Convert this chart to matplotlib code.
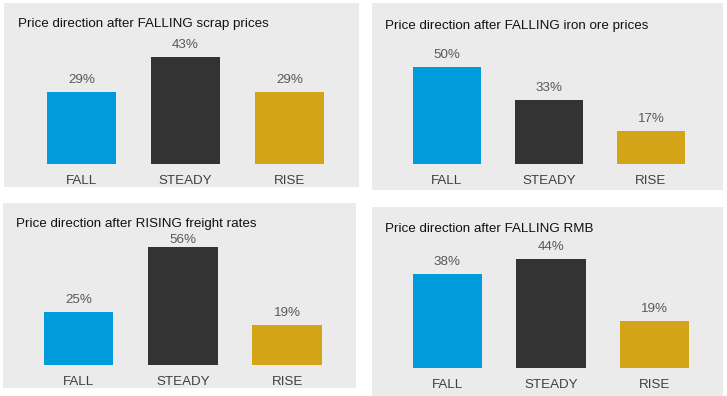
import matplotlib
matplotlib.use('Agg')
import matplotlib.pyplot as plt
from matplotlib.patches import Rectangle

plt.rcParams['font.family'] = ['Liberation Sans', 'DejaVu Sans']

categories = ['FALL', 'STEADY', 'RISE']
colors = ['#009bdb', '#333333', '#d4a418']

titles = [
    'Price direction after FALLING scrap prices',
    'Price direction after FALLING iron ore prices',
    'Price direction after RISING freight rates',
    'Price direction after FALLING RMB',
]
scrap = [29, 43, 29]
iron_ore = [50, 33, 17]
freight = [25, 56, 19]
rmb = [38, 44, 19]
series = [scrap, iron_ore, freight, rmb]

W, H = 727, 396
fig = plt.figure(figsize=(W / 100, H / 100), dpi=100)

# layout in pixels from the top-left: panel box, title anchor, bar geometry
panels = [
    dict(box=(4, 3, 359, 187), title=(18, 24), first=81.5, step=104.0, bottom=164, scale=2.48),
    dict(box=(372, 3, 723, 190), title=(385, 26), first=447.0, step=102.0, bottom=164, scale=1.94),
    dict(box=(3, 203, 356, 388), title=(16, 224), first=78.5, step=104.3, bottom=365, scale=2.11,
         squeeze=1),
    dict(box=(372, 207, 723, 396), title=(385, 229), first=447.5, step=103.5, bottom=368, scale=2.48),
]

for p, title, vals in zip(panels, titles, series):
    x0, y0, x1, y1 = p['box']
    fig.patches.append(Rectangle((x0 / W, 1 - y1 / H), (x1 - x0) / W, (y1 - y0) / H,
                                 transform=fig.transFigure, facecolor='#ebebeb',
                                 edgecolor='none', zorder=-5))
    fig.text(p['title'][0] / W, 1 - p['title'][1] / H, title, fontsize=9.6,
             color='#111111', ha='left', va='center')

    # axes spans x in [-0.5, 2.5], y in [0, 60]
    ymax = 60
    left = p['first'] - 0.5 * p['step']
    width = 3 * p['step']
    height = ymax * p['scale']
    ax = fig.add_axes([left / W, 1 - p['bottom'] / H, width / W, height / H], zorder=2)
    ax.set_xlim(-0.5, 2.5)
    ax.set_ylim(0, ymax)
    ax.patch.set_visible(False)
    ax.axis('off')

    ax.bar(range(3), vals, width=0.67, color=colors)
    for i, v in enumerate(vals):
        off = 7 if p.get('squeeze') == i else 12
        ax.annotate(f'{v}%', xy=(i, v), xytext=(0, off), textcoords='offset pixels',
                    ha='center', va='center', fontsize=9.6, color='#595959')
        ax.annotate(categories[i], xy=(i, 0), xytext=(0, -17), textcoords='offset pixels',
                    ha='center', va='center', fontsize=9.6, color='#404040')

fig.savefig('out.png', dpi=100, facecolor='white')
